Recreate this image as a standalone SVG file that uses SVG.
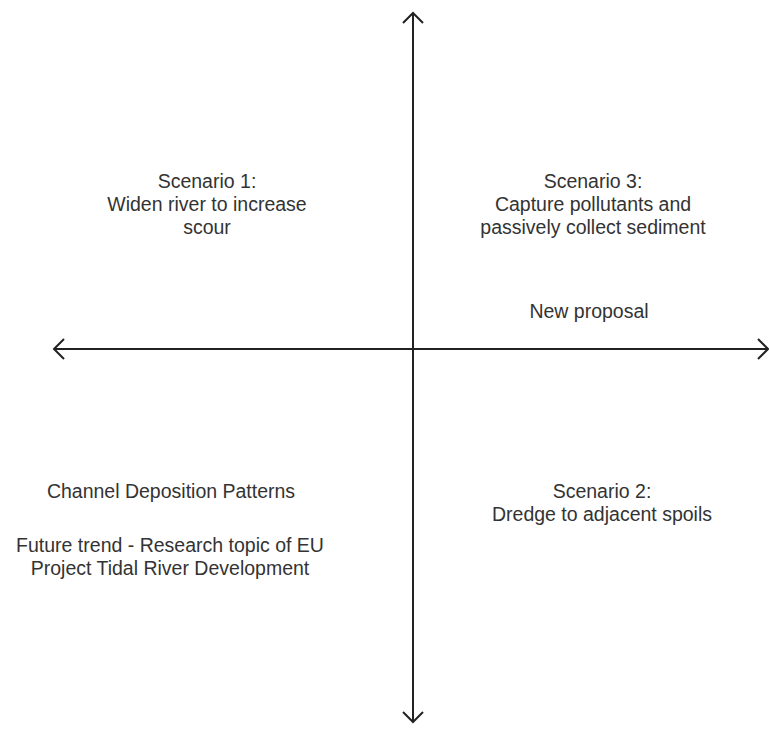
<svg xmlns="http://www.w3.org/2000/svg" width="769" height="734" viewBox="0 0 769 734">
<style>
.t{font-family:"Liberation Sans",Arial,sans-serif;font-size:19.5px;fill:#333;text-anchor:middle}
.ax{stroke:#222;stroke-width:2;fill:none}
</style>
<rect width="769" height="734" fill="#fff"/>
<g id="connectors">
<path class="ax" d="M413 13 V722 M403 23 L413 13 L423 23 M403 712 L413 722 L423 712"/>
<path class="ax" d="M54 349 H768 M64 339 L54 349 L64 359 M758 339 L768 349 L758 359"/>
</g>
<g id="scenario1"><text class="t" x="207" y="188">Scenario 1:</text><text class="t" x="207" y="211">Widen river to increase</text><text class="t" x="207" y="234">scour</text></g>
<g id="scenario3"><text class="t" x="593" y="188">Scenario 3:</text><text class="t" x="593" y="211">Capture pollutants and</text><text class="t" x="593" y="234">passively collect sediment</text></g>
<g id="newproposal"><text class="t" x="589" y="318">New proposal</text></g>
<g id="scenario2"><text class="t" x="602" y="498">Scenario 2:</text><text class="t" x="602" y="521">Dredge to adjacent spoils</text></g>
<g id="channel"><text class="t" x="171" y="498">Channel Deposition Patterns</text></g>
<g id="future"><text class="t" x="170" y="552">Future trend - Research topic of EU</text><text class="t" x="170" y="575">Project Tidal River Development</text></g>
</svg>
